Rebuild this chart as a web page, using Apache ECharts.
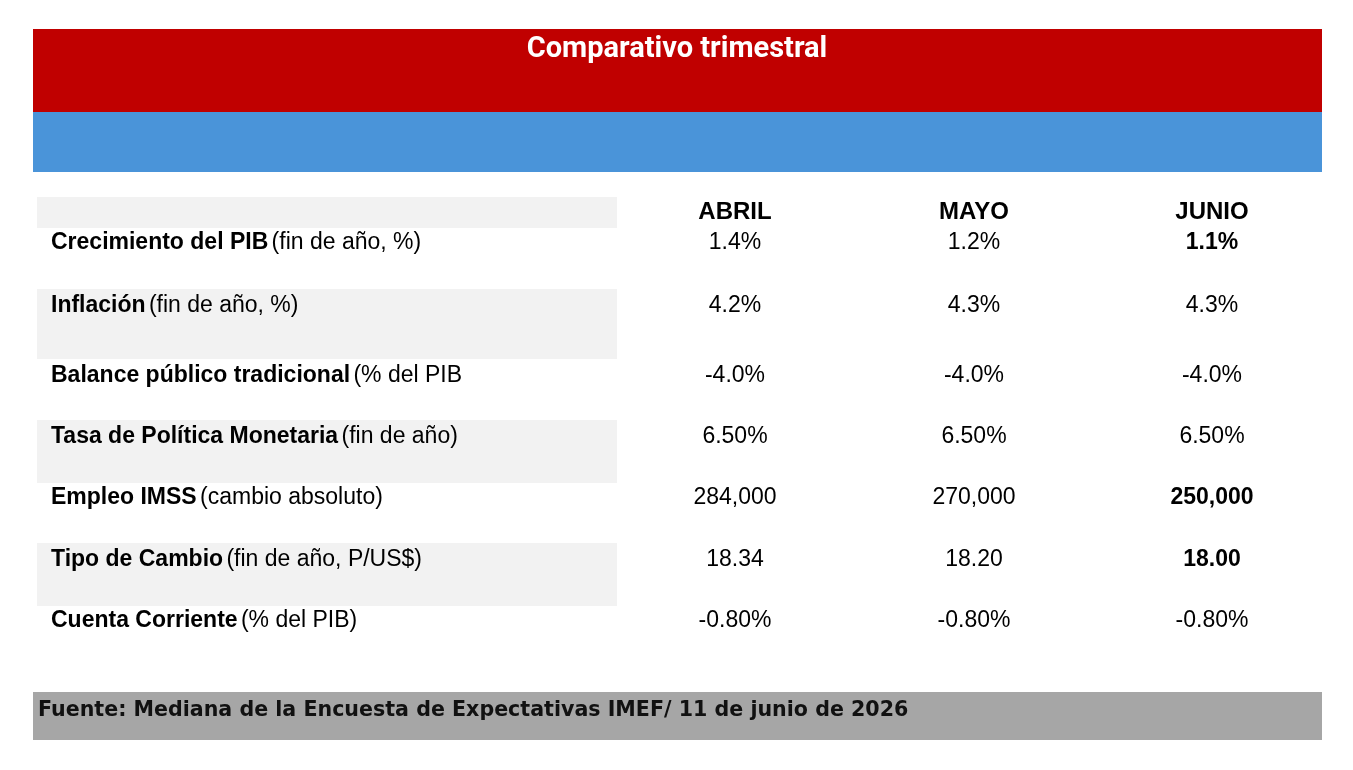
<!DOCTYPE html>
<html>
<head>
<meta charset="utf-8">
<script src="https://cdn.jsdelivr.net/npm/echarts@6/dist/echarts.min.js"></script>
<style>html,body{margin:0;padding:0;background:#fff}#chart1{width:1353px;height:770px}</style>
</head>
<body>
<div id="chart1"></div>
<script>
var title = "Comparativo trimestral"
var months = ["ABRIL", "MAYO", "JUNIO"]
var labelsBold = ["Crecimiento del PIB", "Inflación", "Balance público tradicional", "Tasa de Política Monetaria", "Empleo IMSS", "Tipo de Cambio", "Cuenta Corriente"]
var labelsNote = ["(fin de año, %)", "(fin de año, %)", "(% del PIB", "(fin de año)", "(cambio absoluto)", "(fin de año, P/US$)", "(% del PIB)"]
var abril = ["1.4%", "4.2%", "-4.0%", "6.50%", "284,000", "18.34", "-0.80%"]
var mayo = ["1.2%", "4.3%", "-4.0%", "6.50%", "270,000", "18.20", "-0.80%"]
var junio = ["1.1%", "4.3%", "-4.0%", "6.50%", "250,000", "18.00", "-0.80%"]
var junioBold = [true, false, false, false, true, true, false]
var source = "Fuente: Mediana de la Encuesta de Expectativas IMEF/ 11 de junio de 2026"

var chart = echarts.init(document.querySelector("#chart1"))

var font = "'Liberation Sans', Arial, sans-serif"
var rowY = [243, 306, 376, 437, 498, 560, 621]
var colX = [735, 974, 1212]
var grayBands = [[197, 228], [289, 359], [420, 483], [543, 606]]

var elements = []
elements.push({ type: "rect", shape: { x: 33, y: 29, width: 1289, height: 83 }, style: { fill: "#c00000" } })
elements.push({ type: "rect", shape: { x: 33, y: 112, width: 1289, height: 60 }, style: { fill: "#4a94d9" } })
elements.push({ type: "text", x: 677, y: 50, style: { text: title, fill: "#fff", font: "bold 29px Liberation Sans Narrow, Roboto, sans-serif", align: "center", verticalAlign: "middle" } })
grayBands.forEach(function (b) {
    elements.push({ type: "rect", shape: { x: 37, y: b[0], width: 580, height: b[1] - b[0] }, style: { fill: "#f2f2f2" } })
})
months.forEach(function (m, i) {
    elements.push({ type: "text", x: colX[i], y: 212, style: { text: m, fill: "#000", font: "bold 24px " + font, align: "center", verticalAlign: "middle" } })
})
labelsBold.forEach(function (l, i) {
    elements.push({
        type: "text", x: 51, y: rowY[i],
        style: {
            text: "{b|" + l + "} {n|" + labelsNote[i] + "}",
            verticalAlign: "middle",
            rich: {
                b: { font: "bold 23px " + font, fill: "#000" },
                n: { font: "23px " + font, fill: "#000" }
            }
        }
    })
    var vals = [abril[i], mayo[i], junio[i]]
    vals.forEach(function (v, j) {
        var bold = j === 2 && junioBold[i]
        elements.push({ type: "text", x: colX[j], y: rowY[i], style: { text: v, fill: "#000", font: (bold ? "bold " : "") + "23px " + font, align: "center", verticalAlign: "middle" } })
    })
})
elements.push({ type: "rect", shape: { x: 33, y: 692, width: 1289, height: 48 }, style: { fill: "#a6a6a6" } })
elements.push({ type: "text", x: 38, y: 711, style: { text: source, fill: "#111", font: "bold 20.6px 'DejaVu Sans', sans-serif", verticalAlign: "middle" } })

chart.setOption({ animation: false, graphic: { elements: elements } })
</script>
</body>
</html>
